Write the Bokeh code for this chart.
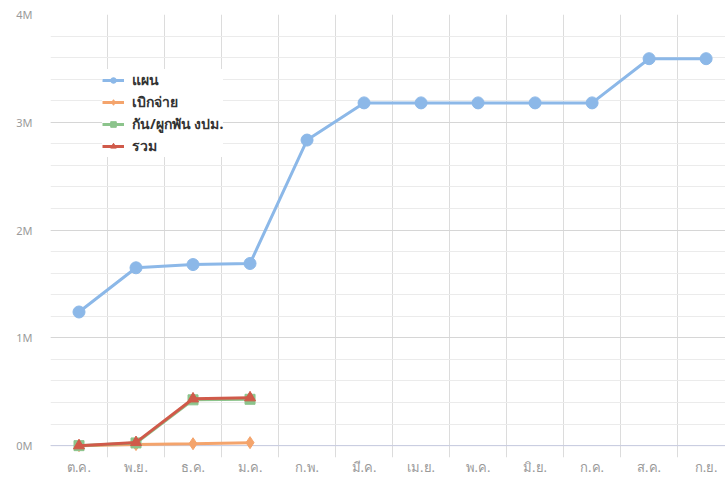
from bokeh.plotting import figure
from bokeh.models import FixedTicker, Legend, LegendItem, Range1d
from bokeh.embed import file_html
from bokeh.resources import INLINE

months = ["ต.ค.", "พ.ย.", "ธ.ค.", "ม.ค.", "ก.พ.", "มี.ค.", "เม.ย.", "พ.ค.", "มิ.ย.", "ก.ค.", "ส.ค.", "ก.ย."]
plan = [1.24, 1.65, 1.68, 1.69, 2.835, 3.18, 3.18, 3.18, 3.18, 3.18, 3.59, 3.59]
spent = [0.0, 0.01, 0.018, 0.028]
committed = [0.0, 0.025, 0.425, 0.43]
total = [0.0, 0.03, 0.435, 0.445]
series_names = ["แผน", "เบิกจ่าย", "กัน/ผูกพัน งปม.", "รวม"]
y_tick_labels = {0: "0M", 1: "1M", 2: "2M", 3: "3M", 4: "4M"}

FONT = "Noto Sans"

p = figure(width=725, height=478, output_backend="svg", toolbar_location=None,
           x_range=Range1d(-0.5, 11.34), y_range=Range1d(-0.11, 4.0),
           min_border_left=50, min_border_right=0, min_border_top=14, min_border_bottom=20)
p.outline_line_color = None
p.background_fill_color = "white"

# axes
p.xaxis.ticker = FixedTicker(ticks=list(range(len(months))))
p.xaxis.major_label_overrides = {i: m for i, m in enumerate(months)}
p.yaxis.ticker = FixedTicker(ticks=list(y_tick_labels.keys()),
                             minor_ticks=[i * 0.2 for i in range(0, 21)])
p.yaxis.major_label_overrides = y_tick_labels
for ax in (p.xaxis[0], p.yaxis[0]):
    ax.axis_line_color = None
    ax.major_tick_line_color = None
    ax.minor_tick_line_color = None
    ax.major_tick_out = 0
    ax.major_tick_in = 0
    ax.minor_tick_out = 0
    ax.minor_tick_in = 0
    ax.major_label_text_color = "#9a9a9a"
    ax.major_label_text_font = FONT
p.yaxis.major_label_text_font_size = "11px"
p.xaxis.major_label_text_font_size = "13px"
p.xaxis.major_label_standoff = 0
p.yaxis.major_label_standoff = 18

# grid
p.xgrid.ticker = FixedTicker(ticks=[i - 0.5 for i in range(len(months) + 1)])
p.xgrid.grid_line_color = "#dcdcdc"
p.ygrid.grid_line_color = "#d6d6d6"
p.ygrid.minor_grid_line_color = "#ebebeb"

x_all = list(range(len(months)))
x4 = x_all[:4]

c_blue = "#8cb8e8"
c_orange = "#f4a46c"
c_green = "#8cc48c"
c_red = "#d05a4a"

# zero line
p.line([-0.5, 11.5], [0, 0], line_color="#c9cde3", line_width=1)

l1 = p.line(x_all, plan, line_color=c_blue, line_width=3)
m1 = p.scatter(x_all, plan, marker="circle", size=12, fill_color=c_blue, line_color=c_blue)
l2 = p.line(x4, spent, line_color=c_orange, line_width=3)
m2 = p.scatter(x4, spent, marker="diamond", size=12, fill_color=c_orange, line_color=c_orange)
l3 = p.line(x4, committed, line_color=c_green, line_width=3)
m3 = p.scatter(x4, committed, marker="square", size=10, fill_color=c_green, line_color=c_green)
l4 = p.line(x4, total, line_color=c_red, line_width=3)
m4 = p.scatter(x4, total, marker="triangle", size=11, fill_color=c_red, line_color=c_red)

legend = Legend(items=[
    LegendItem(label=series_names[0], renderers=[l1, m1]),
    LegendItem(label=series_names[1], renderers=[l2, m2]),
    LegendItem(label=series_names[2], renderers=[l3, m3]),
    LegendItem(label=series_names[3], renderers=[l4, m4]),
], location=(52, 300))
legend.label_text_font = FONT
legend.label_text_font_size = "14px"
legend.label_text_font_style = "bold"
legend.label_text_color = "#333333"
legend.glyph_width = 22
legend.glyph_height = 14
legend.label_height = 14
legend.spacing = 0
legend.label_standoff = 8
legend.padding = 8
legend.margin = 0
legend.border_line_color = None
legend.background_fill_color = "white"
legend.background_fill_alpha = 1.0
p.add_layout(legend, "center")

open("out.html", "w").write(file_html(p, INLINE))
